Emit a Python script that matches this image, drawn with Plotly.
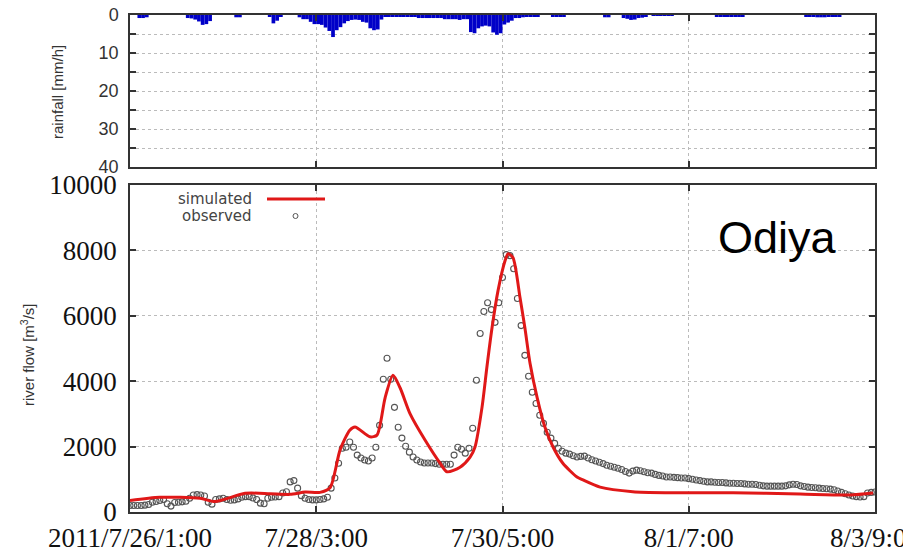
import plotly.graph_objects as go

# ---------------- data ----------------
rain_hours = list(range(200))
rain = [
    0, 0, 0.8, 0.8, 0.6, 0, 0, 0, 0, 0,
    0, 0, 0, 0, 0, 0.8, 0.9, 1.2, 1.7, 2.6,
    2.4, 1.6, 0, 0, 0, 0, 0, 0, 0.6, 0.6,
    0, 0, 0, 0, 0, 0, 0, 0.5, 2.2, 1.5,
    0.4, 0, 0, 0, 0, 0.6, 1.1, 1.1, 1.8, 2.4,
    2.4, 2.6, 3.3, 4.2, 5.8, 4.0, 3.2, 2.2, 1.6, 1.3,
    1.2, 1.3, 1.8, 2.0, 3.5, 4.0, 3.8, 1.2, 0.3, 0.3,
    0.3, 0.3, 0.3, 0.3, 0.3, 0.3, 0.3, 0.8, 0.8, 0.8,
    0.8, 0.8, 0.8, 0.8, 1.1, 1.1, 1.1, 1.1, 1.3, 1.1,
    1.1, 4.5, 4.8, 3.5, 3.0, 2.8, 3.0, 4.6, 5.2, 4.8,
    2.5, 2.0, 1.5, 0.8, 0.8, 0.6, 0.3, 0.3, 0.3, 0.3,
    0, 0, 0, 0.5, 0.5, 0.5, 0.5, 0, 0, 0,
    0, 0, 0, 0, 0, 0, 0, 0.6, 0.6, 0,
    0, 0, 0.8, 1.0, 1.3, 1.2, 0.8, 0.7, 0.5, 0,
    0.2, 0.2, 0.2, 0.2, 0.2, 0.2, 0, 0, 0, 0,
    0, 0, 0, 0, 0, 0, 0, 0.3, 0.3, 0.3,
    0.3, 0.3, 0.3, 0.3, 0.3, 0, 0, 0, 0, 0,
    0, 0, 0, 0, 0, 0, 0, 0, 0, 0,
    0, 0.4, 0.5, 0.5, 0.6, 0.6, 0.6, 0.5, 0.5, 0.4,
    0.3, 0, 0, 0, 0, 0, 0, 0, 0, 0,
]

obs_hours = list(range(201))
observed = [
    200, 200, 200, 200, 210, 230, 300, 320, 350, 380,
    250, 180, 290, 300, 310, 330, 420, 520, 530, 520,
    490, 300, 240, 380, 400, 420, 380, 360, 370, 400,
    450, 470, 470, 430, 380, 270, 250, 420, 450, 460,
    470, 580, 620, 920, 960, 730, 500, 420, 380, 370,
    370, 380, 400, 450, 730, 1040, 1490, 1950, 1980, 2140,
    1980, 1740, 1650, 1590, 1560, 1650, 1980, 2650, 4060, 4700,
    4060, 3200, 2590, 2260, 2010, 1830, 1680, 1590, 1530, 1500,
    1500, 1500, 1480, 1460, 1460, 1460, 1460, 1740, 1980, 1920,
    1800, 1950, 2560, 4030, 5460, 6130, 6400, 6190, 5800, 6400,
    7170, 7870, 7840, 7440, 6530, 5700, 4790, 4150, 3660, 3320,
    2960, 2710, 2440, 2260, 2100, 1950, 1860, 1800, 1770, 1720,
    1680, 1700, 1710, 1650, 1600, 1560, 1520, 1480, 1430, 1400,
    1370, 1340, 1300, 1240, 1190, 1250, 1280, 1260, 1230, 1200,
    1190, 1150, 1120, 1100, 1070, 1070, 1060, 1050, 1040, 1040,
    1020, 1000, 980, 960, 940, 920, 920, 910, 900, 900,
    890, 880, 880, 870, 870, 860, 850, 850, 840, 820,
    800, 790, 790, 790, 790, 790, 800, 830, 850, 840,
    800, 780, 760, 750, 740, 730, 720, 710, 700, 680,
    640, 600, 560, 520, 490, 470, 460, 470, 580, 600,
    610,
]

sim_hours = [0, 8, 18.8, 22.8, 30.9, 37.6, 43, 47, 51, 53.7, 56.4, 59, 60.4,
             64.4, 66.3, 68.5, 70.6, 72.5, 75.2, 79.2, 83.2, 85.1, 88.6, 91.3,
             92.6, 94.5, 95.8, 97.2, 98.8, 100.7, 101.5, 102.8, 104.7, 106,
             107.4, 109.3, 111.4, 113.6, 116.2, 120, 121.6, 126.2, 135, 144.2,
             161.9, 179.9, 193.3, 199.5]
simulated = [350, 450, 420, 320, 570, 560, 540, 610, 600, 740, 1900, 2500, 2600,
             2300, 2350, 3500, 4180, 3800, 3000, 2200, 1500, 1230, 1370, 1680,
             1980, 3200, 4420, 5640, 6770, 7690, 7900, 7780, 6560, 5640,
             4540, 3500, 2590, 1980, 1490, 1070, 980, 760, 620, 590,
             590, 550, 520, 580]

x_tick_vals = [0, 50, 100, 150, 200]
x_tick_text = ["2011/7/26/1:00", "7/28/3:00", "7/30/5:00", "8/1/7:00", "8/3/9:00"]
rain_ticks = [0, 10, 20, 30, 40]
rain_minor = [5, 15, 25, 35]
flow_ticks = [0, 2000, 4000, 6000, 8000, 10000]
flow_tick_text = ["0", "2000", "4000", "6000", "8000", "10000"]

# ---------------- figure ----------------
W, H = 903, 558
def px_x(p): return p / W
def px_y(p): return 1 - p / H

XDOM = [px_x(130), px_x(875)]
TOP_DOM = [px_y(167), px_y(15)]
BOT_DOM = [px_y(512), px_y(185)]

fig = go.Figure()
fig.add_trace(go.Bar(x=[h + 0.5 for h in rain_hours], y=rain, width=1,
                     marker=dict(color="#0000c8", line_width=0),
                     xaxis="x", yaxis="y", showlegend=False))
fig.add_trace(go.Scatter(x=obs_hours, y=observed, mode="markers",
                         marker=dict(symbol="circle-open", size=6, color="#555555",
                                     line=dict(width=1.1)),
                         xaxis="x2", yaxis="y2", showlegend=False))
fig.add_trace(go.Scatter(x=sim_hours, y=simulated, mode="lines",
                         line=dict(color="#e01818", width=3, shape="spline", smoothing=0.7),
                         xaxis="x2", yaxis="y2", showlegend=False))

grid = dict(showgrid=True, gridcolor="#bbbbbb", griddash="dot", gridwidth=1)
frame = dict(showline=True, linecolor="#333333", linewidth=1.5, mirror="allticks",
             ticks="inside", ticklen=6, tickcolor="#333333", tickwidth=1.5,
             zeroline=False, automargin=False)

fig.update_layout(
    width=W, height=H, margin=dict(l=0, r=0, t=0, b=0, autoexpand=False),
    paper_bgcolor="white", plot_bgcolor="white", showlegend=False,
    xaxis=dict(domain=XDOM, anchor="y", range=[0, 200], tickvals=[50, 100, 150],
               showticklabels=False, **grid, **frame),
    yaxis=dict(domain=TOP_DOM, anchor="x", range=[40, 0], tickvals=rain_ticks,
               minor=dict(tickvals=rain_minor, ticks="inside", ticklen=6,
                          tickcolor="#333333", showgrid=True, gridcolor="#bbbbbb",
                          griddash="dot"),
               tickfont=dict(family="Liberation Sans", size=18, color="#333333"),
               ticklabelstandoff=6, **grid, **frame),
    xaxis2=dict(domain=XDOM, anchor="y2", range=[0, 200], tickvals=x_tick_vals,
                ticktext=x_tick_text, ticklabeloverflow="allow",
                tickfont=dict(family="Liberation Serif", size=27, color="#111111"),
                ticklabelstandoff=1, **grid, **frame),
    yaxis2=dict(domain=BOT_DOM, anchor="x2", range=[0, 10000], tickvals=flow_ticks,
                ticktext=flow_tick_text,
                tickfont=dict(family="Liberation Serif", size=27, color="#111111"),
                ticklabelstandoff=6, **grid, **frame),
)

# axis titles
fig.add_annotation(text="rainfall [mm/h]", x=px_x(57), y=px_y(92), xref="paper", yref="paper",
                   xanchor="center", yanchor="middle", textangle=-90, showarrow=False,
                   font=dict(family="Liberation Sans", size=15, color="#333333"))
fig.add_annotation(text="river flow [m<sup>3</sup>/s]", x=px_x(27), y=px_y(355),
                   xref="paper", yref="paper", xanchor="center", yanchor="middle",
                   textangle=-90, showarrow=False,
                   font=dict(family="Liberation Sans", size=15, color="#333333"))

# station name
fig.add_annotation(text="Odiya", x=px_x(716), y=px_y(238), xref="paper", yref="paper",
                   xanchor="left", yanchor="middle", showarrow=False,
                   font=dict(family="Liberation Sans", size=45, color="black"))

# legend (drawn manually: label left, sample right)
fig.add_annotation(text="simulated", x=px_x(254), y=px_y(199), xref="paper", yref="paper",
                   xanchor="right", yanchor="middle", showarrow=False,
                   font=dict(family="DejaVu Sans", size=15, color="#444444"))
fig.add_annotation(text="observed", x=px_x(254), y=px_y(216), xref="paper", yref="paper",
                   xanchor="right", yanchor="middle", showarrow=False,
                   font=dict(family="DejaVu Sans", size=15, color="#444444"))
fig.add_shape(type="line", xref="paper", yref="paper", x0=px_x(267), x1=px_x(325),
              y0=px_y(199), y1=px_y(199), line=dict(color="#e01818", width=3))
fig.add_shape(type="circle", xref="paper", yref="paper", x0=px_x(293), x1=px_x(298),
              y0=px_y(218.5), y1=px_y(213.5), line=dict(color="#555555", width=1))

fig.write_html("out.html")
